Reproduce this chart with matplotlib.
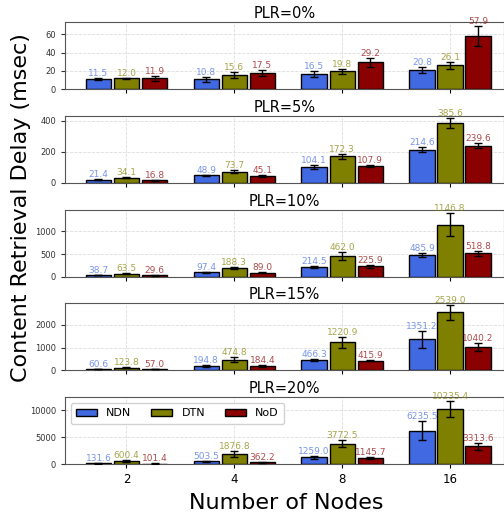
import numpy as np
import matplotlib
matplotlib.use("Agg")
import matplotlib.pyplot as plt

# ======================
# Data
# ======================
nodes = ["2", "4", "8", "16"]
series = ["NDN", "DTN", "NoD"]
plr_titles = ["PLR=0%", "PLR=5%", "PLR=10%", "PLR=15%", "PLR=20%"]

ndn_vals = [[11.5, 10.8, 16.5, 20.8],
            [21.4, 48.9, 104.1, 214.6],
            [38.7, 97.4, 214.5, 485.9],
            [60.6, 194.8, 466.3, 1351.2],
            [131.6, 503.5, 1259.0, 6235.5]]
dtn_vals = [[12.0, 15.6, 19.8, 26.1],
            [34.1, 73.7, 172.3, 385.6],
            [63.5, 188.3, 462.0, 1146.8],
            [123.8, 474.8, 1220.9, 2539.0],
            [600.4, 1876.8, 3772.5, 10235.4]]
nod_vals = [[11.9, 17.5, 29.2, 57.9],
            [16.8, 45.1, 107.9, 239.6],
            [29.6, 89.0, 225.9, 518.8],
            [57.0, 184.4, 415.9, 1040.2],
            [101.4, 362.2, 1145.7, 3313.6]]

ndn_err = [[1.0, 3.0, 3.6, 3.6],
           [2, 3, 14, 18],
           [8, 10, 15, 44],
           [15, 40, 40, 368],
           [30, 100, 300, 1840]]
dtn_err = [[0.4, 2.9, 2.7, 3.6],
           [5, 11, 17, 31],
           [12, 15, 85, 257],
           [40, 107, 230, 323],
           [150, 550, 670, 1530]]
nod_err = [[2.9, 3.0, 4.9, 11.0],
           [2, 5, 7, 16],
           [5, 12, 37, 59],
           [10, 30, 20, 175],
           [20, 60, 250, 610]]

ylims = [73, 432, 1479, 2927, 12450]
yticks = [[0, 20, 40, 60], [0, 200, 400], [0, 500, 1000], [0, 1000, 2000], [0, 5000, 10000]]

colors = ["royalblue", "olive", "darkred"]

# ======================
# Figure
# ======================
fig, axes = plt.subplots(5, 1, figsize=(5.04, 5.18), dpi=100)
fig.subplots_adjust(left=0.129, right=1.0, top=0.957, bottom=0.104, hspace=0.40)

x = np.arange(len(nodes))
width = 0.235
offset = 0.26

for k, ax in enumerate(axes):
    vals = [ndn_vals[k], dtn_vals[k], nod_vals[k]]
    errs = [ndn_err[k], dtn_err[k], nod_err[k]]
    for j in range(3):
        pos = x + (j - 1) * offset
        ax.bar(pos, vals[j], width, yerr=errs[j], color=colors[j],
               edgecolor="black", linewidth=1.0, capsize=3,
               error_kw=dict(elinewidth=1, capthick=1, ecolor="black"),
               label=series[j], zorder=3)
        for p, v, e in zip(pos, vals[j], errs[j]):
            ax.text(p, v + e, f"{v:.1f}", ha="center", va="bottom",
                    fontsize=6.5, color=colors[j], alpha=0.7, zorder=4)
    ax.set_title(plr_titles[k], fontsize=10.5, pad=3)
    ax.set_xlim(-0.57, 3.5)
    ax.set_ylim(0, ylims[k])
    ax.set_yticks(yticks[k])
    ax.set_xticks(x)
    ax.grid(True, color="#dddddd", linestyle="--", linewidth=0.6, zorder=0)
    ax.tick_params(axis="y", labelsize=6, colors="#333333", length=3)
    ax.tick_params(axis="x", labelsize=8.5, length=3)
    for s in ax.spines.values():
        s.set_color("#555555")
    if k < 4:
        ax.set_xticklabels([])
    else:
        ax.set_xticklabels(nodes)

axes[-1].legend(loc="upper left", ncol=3, fontsize=8, handlelength=1.9,
                columnspacing=1.8, borderpad=0.5, framealpha=0.9,
                bbox_to_anchor=(0.0, 1.0))

fig.text(0.041, 0.60, "Content Retrieval Delay (msec)", rotation=90,
         ha="center", va="center", fontsize=16)
fig.text(0.567, 0.029, "Number of Nodes", ha="center", va="center", fontsize=16)

fig.savefig("out.png")
